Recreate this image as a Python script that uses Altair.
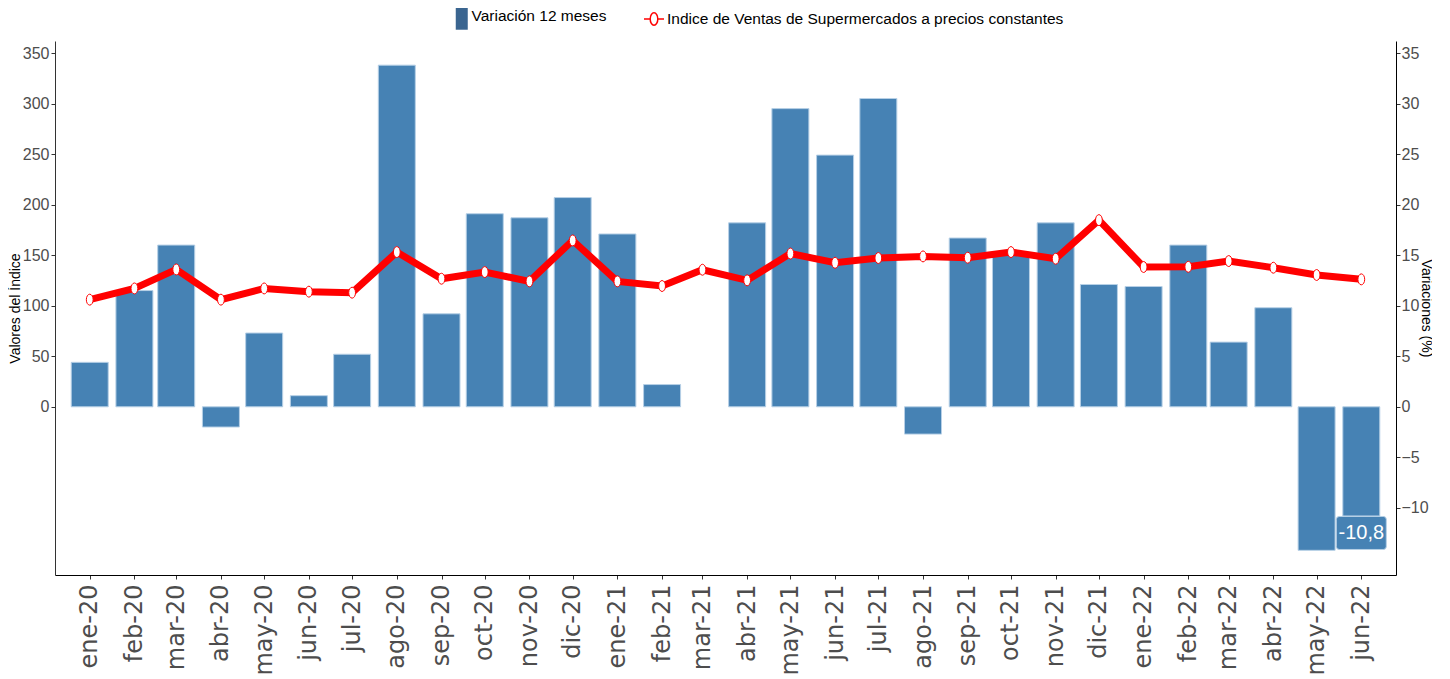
import altair as alt
import pandas as pd

# ---------------- data ----------------
meses = [
    "2020-01-01", "2020-02-01", "2020-03-01", "2020-04-01", "2020-05-01", "2020-06-01",
    "2020-07-01", "2020-08-01", "2020-09-01", "2020-10-01", "2020-11-01", "2020-12-01",
    "2021-01-01", "2021-02-01", "2021-03-01", "2021-04-01", "2021-05-01", "2021-06-01",
    "2021-07-01", "2021-08-01", "2021-09-01", "2021-10-01", "2021-11-01", "2021-12-01",
    "2022-01-01", "2022-02-01", "2022-03-01", "2022-04-01", "2022-05-01", "2022-06-01",
]
variacion = [
    4.4, 11.5, 16.0, -2.0, 7.3, 1.1,
    5.2, 33.8, 9.2, 19.1, 18.7, 20.7,
    17.1, 2.2, None, 18.2, 29.5, 24.9,
    30.5, -2.7, 16.7, 15.0, 18.2, 12.1,
    11.9, 16.0, 6.4, 9.8, -14.2, -10.8,
]
indice = [
    106.0, 117.1, 135.9, 106.0, 117.1, 113.9,
    112.9, 153.1, 126.7, 133.3, 124.1, 164.6,
    124.1, 119.5, 135.6, 125.1, 151.6, 142.5,
    147.2, 148.8, 147.5, 153.1, 146.5, 184.7,
    138.3, 138.5, 144.2, 137.6, 130.4, 126.1,
]
meses_abrev = ["ene", "feb", "mar", "abr", "may", "jun", "jul", "ago", "sep", "oct", "nov", "dic"]
serie_barra = "Variación 12 meses"
serie_linea = "Indice de Ventas de Supermercados a precios constantes"
ticks_izq = [0, 50, 100, 150, 200, 250, 300, 350]
ticks_der = [-10, -5, 0, 5, 10, 15, 20, 25, 30, 35]
dominio_izq = [-166.4, 361.9]
dominio_der = [-16.64, 36.19]

df = pd.DataFrame({
    "fecha": meses,
    "variacion": variacion,
    "indice": indice,
    "serie_barra": serie_barra,
    "serie_linea": serie_linea,
})
df_label = pd.DataFrame({
    "fecha": [meses[-1]],
    "variacion": [variacion[-1]],
    "etiqueta": [f"{variacion[-1]:.1f}".replace(".", ",")],
})

def ms(ts):
    return int(pd.Timestamp(ts).value // 10**6)

x_dom = [
    ms(pd.Timestamp(meses[0]) - pd.Timedelta(days=20.62)),
    ms(pd.Timestamp(meses[-1]) + pd.Timedelta(days=20.6)),
]
x_vals = [ms(m) for m in meses]

FONT = "Liberation Sans, Arial, sans-serif"
GRAY = "#4D4D4D"
BLUE = "#4682B4"

label_expr = (
    "[" + ",".join(f"'{m}'" for m in meses_abrev) + "][utcmonth(datum.value)]"
    " + '-' + utcFormat(datum.value, '%y')"
)

x_enc = alt.X(
    "fecha:T",
    scale=alt.Scale(type="utc", domain=x_dom, nice=False),
    axis=alt.Axis(
        values=x_vals, labelExpr=label_expr, labelAngle=-90, labelAlign="right",
        labelBaseline="middle", labelFont="DejaVu Sans", labelFontSize=24,
        labelColor=GRAY, labelPadding=5, labelOverlap=False, labelFlush=False,
        tickSize=4, tickColor="#333333", domainColor="#000000", domainWidth=1.2,
        grid=False, title=None,
    ),
)

y_der = alt.Y(
    "variacion:Q",
    scale=alt.Scale(domain=dominio_der, nice=False, zero=False),
    axis=alt.Axis(
        orient="right", values=ticks_der, title="Variaciones (%)",
        titleFont=FONT, titleFontSize=14, titleFontWeight="normal", titleColor="black",
        titleX=29, titleBaseline="middle", labelFont=FONT, labelFontSize=16,
        labelColor=GRAY, labelPadding=1, tickSize=4, tickColor="#333333",
        domainColor="#000000", grid=False,
    ),
)

y_izq = alt.Y(
    "indice:Q",
    scale=alt.Scale(domain=dominio_izq, nice=False, zero=False),
    axis=alt.Axis(
        orient="left", values=ticks_izq, title="Valores del Índice",
        titleFont=FONT, titleFontSize=14, titleFontWeight="normal", titleColor="black",
        titlePadding=0, labelFont=FONT, labelFontSize=16, labelColor=GRAY,
        labelPadding=2, tickSize=4, tickColor="#333333", domainColor="#333333",
        grid=False,
    ),
)

bars = alt.Chart(df).mark_bar(size=37, fill=BLUE, stroke="#B7D0E6", strokeWidth=1).encode(
    x=x_enc,
    y=y_der,
    color=alt.Color(
        "serie_barra:N",
        scale=alt.Scale(domain=[serie_barra], range=["#3A6590"]),
        legend=alt.Legend(
            title=None, orient="none", legendX=399, legendY=-33,
            symbolType="M-1,-2.33L1,-2.33L1,2.33L-1,2.33Z", symbolSize=144,
            symbolStrokeWidth=0, labelFont=FONT, labelFontSize=15.5,
            labelColor="black", labelOffset=2, labelLimit=0, padding=0,
        ),
    ),
)

line = alt.Chart(df).mark_line(strokeWidth=7).encode(
    x=x_enc,
    y=y_izq,
    stroke=alt.Stroke(
        "serie_linea:N",
        scale=alt.Scale(domain=[serie_linea], range=["#FF0000"]),
        legend=alt.Legend(
            title=None, orient="none", legendX=588, legendY=-33,
            symbolType="M-1,0L-0.38,0M0.38,0A0.3,0.5 0 1,1 -0.38,0A0.3,0.5 0 1,1 0.38,0M0.38,0L1,0",
            symbolSize=400, symbolStrokeWidth=1.5, symbolFillColor="white",
            labelFont=FONT, labelFontSize=15.5, labelColor="black",
            labelOffset=2, labelLimit=0, padding=0,
        ),
    ),
)

points = alt.Chart(df).mark_point(
    shape="M-0.62,0A0.62,1 0 1,1 0.62,0A0.62,1 0 1,1 -0.62,0Z",
    size=120, filled=False, fill="white", fillOpacity=1, stroke="#FF0000",
    strokeWidth=1, opacity=1,
).encode(x=x_enc, y=y_izq)

box_path = ("M-0.88,-0.66L0.88,-0.66Q1,-0.66 1,-0.54L1,0.54Q1,0.66 0.88,0.66"
            "L-0.88,0.66Q-1,0.66 -1,0.54L-1,-0.54Q-1,-0.66 -0.88,-0.66Z")

label_box = alt.Chart(df_label).mark_point(
    shape=box_path, size=2500, filled=True, fill=BLUE, fillOpacity=1,
    stroke="#B7D0E6", strokeWidth=1, opacity=1, yOffset=17,
).encode(x=x_enc, y=y_der)

label_text = alt.Chart(df_label).mark_text(
    font=FONT, fontSize=20, color="white", yOffset=17, baseline="middle", align="center",
).encode(x=x_enc, y=y_der, text="etiqueta:N")

right_layers = alt.layer(bars, label_box, label_text)
left_layers = alt.layer(line, points)

chart = alt.layer(right_layers, left_layers).resolve_scale(
    y="independent", color="independent", stroke="independent"
).properties(
    width=1341, height=534,
    padding={"left": 0, "top": 0, "right": 0, "bottom": 0},
    background="white",
).configure_view(stroke=None)

chart.save("out.html", embed_options={"renderer": "svg", "actions": False})
